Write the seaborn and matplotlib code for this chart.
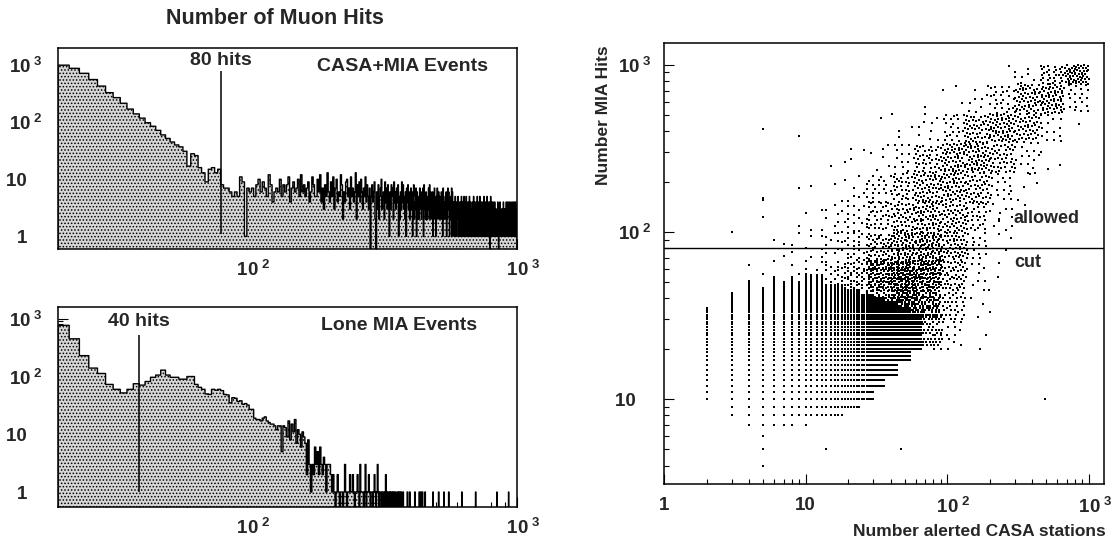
import numpy as np
import pandas as pd
import matplotlib
matplotlib.use("Agg")
import matplotlib.pyplot as plt
import matplotlib.transforms as mtransforms
import seaborn as sns
from matplotlib.ticker import FixedLocator, FuncFormatter, NullFormatter

sns.set_theme(style="ticks")
plt.rcParams["font.family"] = ["Liberation Sans", "DejaVu Sans"]
plt.rcParams["font.weight"] = "bold"
plt.rcParams["mathtext.fontset"] = "custom"
plt.rcParams["mathtext.rm"] = "Liberation Sans:bold"
plt.rcParams["mathtext.it"] = "Liberation Sans:bold"
plt.rcParams["mathtext.bf"] = "Liberation Sans:bold"
plt.rcParams["hatch.linewidth"] = 0.7

# ---------------------------------------------------------------- data
HIT_LOW = 20          # first histogram edge (muon hits)
HIT_HIGH = 1000       # last histogram edge
HIT_BIN = 2           # hits per histogram bin

# CASA+MIA events: bins 20..78
casa_mia_head = [1000, 880, 720, 560, 430, 330, 270, 215, 170, 140,
                 118, 98, 85, 72, 60, 52, 45, 40, 37, 31,
                 17, 28, 26, 16, 13, 9, 15, 16, 13, 15]
# CASA+MIA events: bins 80..998, one hex digit per bin, 100 hits per line
casa_mia_tail = [
    "8776565b91" "76758a6975" "c84676a586" "8b47967a5c" "6857946b85",
    "5a6c47385d" "6495b37a46" "5c82649a57" "3b5746d285" "94a6375b48",
    "5370584692" "0638257a35" "6294738516" "3857294637" "4815263948",
    "3526174836" "2473615824" "3716252473" "5263718342" "6252374826",
    "3426153724" "1527346253" "4263517342" "2536142736" "3142527163",
    "2413152314" "3251423141" "2514312153" "1342513124" "2315241132",
    "1423152141" "3214215312" "2413521314" "1231421532" "3142131524",
    "2131420315" "1241312413" "2314121312" "1312413021" "2141312131",
    "1312141231" "2131214132" "1241312143" "1312141213" "2141312141",
    "2131412131",
]

# Lone MIA events: bins 20..204
lone_mia_head = [770, 450, 230, 140, 113, 73, 60, 52, 60, 75,
                 71, 82, 97, 106, 129, 106, 97, 97, 90, 90,
                 100, 100, 73, 65, 60, 50, 49, 60, 58, 60,
                 57, 49, 48, 35, 43, 42, 37, 38, 33, 34,
                 32, 27, 27, 19, 18, 18, 17, 19, 20, 17,
                 16, 15, 15, 14, 12, 14, 14, 5, 14, 13,
                 9, 17, 8, 15, 11, 18, 7, 12, 10, 6,
                 11, 9, 7, 2, 8, 3, 1, 3, 2, 6,
                 3, 5, 2, 6, 3, 2, 4, 3, 1, 3,
                 3, 3, 2]
# Lone MIA events: bins 206..380, one digit per bin
lone_mia_mid = ("1210121011" "0131011211" "2101121031" "1101301121"
                "0110121013" "1011010110" "2101101011" "0101100101"
                "10110010")
# Lone MIA events above 380 hits: single events
lone_mia_single_hits = [392, 400, 418, 434, 440, 446, 456, 488, 512, 536,
                        558, 624, 702, 842, 930]

# Scatter: filled lattice of (stations, hits) at low multiplicity
lattice_first_x = [2, 3, 4, 5, 6, 7, 8, 9, 10, 11, 14, 19, 25, 31, 37, 45, 56]
lattice_last_x = [2, 3, 4, 5, 6, 7, 8, 9, 10, 13, 18, 24, 30, 36, 44, 55, 65]
lattice_low_y = [10, 8, 7, 7, 7, 7, 7, 8, 7, 8, 8, 9, 10, 12, 14, 17, 20]
lattice_high_y = [35, 43, 51, 46, 54, 50, 54, 50, 56, 55, 48, 45, 42, 40, 38, 35, 32]

# Scatter: events per cell of the sparse cloud
cloud_x_edges = [3, 5, 8, 12, 18, 27, 40, 60, 90, 135, 200, 300, 450, 675, 1000]
cloud_y_edges = [20, 30, 45, 68, 100, 150, 225, 340, 510, 765, 1000]
cloud_y020 = [0, 0, 0, 0, 0, 0, 50, 55, 15, 2, 0, 0, 0, 0]
cloud_y030 = [0, 0, 0, 0, 15, 75, 150, 110, 35, 5, 0, 0, 0, 0]
cloud_y045 = [1, 3, 8, 22, 50, 110, 150, 120, 50, 10, 1, 0, 0, 0]
cloud_y068 = [1, 3, 6, 12, 24, 45, 75, 80, 55, 18, 3, 0, 0, 0]
cloud_y100 = [0, 1, 3, 8, 18, 32, 50, 58, 52, 32, 9, 2, 0, 0]
cloud_y150 = [0, 0, 1, 2, 8, 20, 40, 52, 58, 45, 17, 4, 0, 0]
cloud_y225 = [0, 0, 0, 1, 2, 6, 16, 38, 60, 62, 42, 15, 3, 0]
cloud_y340 = [0, 0, 0, 0, 0, 1, 3, 9, 25, 47, 62, 50, 15, 1]
cloud_y510 = [0, 0, 0, 0, 0, 0, 0, 1, 3, 9, 26, 56, 66, 20]
cloud_y765 = [0, 0, 0, 0, 0, 0, 0, 0, 0, 0, 2, 6, 30, 60]

# Scatter: isolated events
single_x = [5, 5, 5, 5, 5, 5, 9, 11, 14, 47, 490, 21, 26, 232, 232, 46]
single_y = [4, 5, 6, 155, 160, 412, 376, 188, 5, 5, 10, 272, 308, 120, 65, 371]

CUT_HITS = 80
LONE_CUT_HITS = 40


# ---------------------------------------------------------------- helpers
def hist_frame(counts):
    edges = HIT_LOW + HIT_BIN * np.arange(len(counts) + 1)
    centers = edges[:-1] + HIT_BIN / 2
    return pd.DataFrame({"hits": centers, "events": counts})


n_bins = (HIT_HIGH - HIT_LOW) // HIT_BIN
casa_counts = list(casa_mia_head) + [int(c, 16) for c in "".join(casa_mia_tail)]
casa_counts = casa_counts[:n_bins] + [0] * (n_bins - len(casa_counts))
lone_counts = list(lone_mia_head) + [int(c) for c in lone_mia_mid]
lone_counts += [0] * (n_bins - len(lone_counts))
for h in lone_mia_single_hits:
    lone_counts[(h - HIT_LOW) // HIT_BIN] = 1

# scatter table
xs, ys = [], []
for x0, x1, lo, hi in zip(lattice_first_x, lattice_last_x, lattice_low_y, lattice_high_y):
    for x in range(x0, x1 + 1):
        for y in range(lo, hi + 1):
            xs.append(x)
            ys.append(y)

cloud_rows = [cloud_y020, cloud_y030, cloud_y045, cloud_y068, cloud_y100,
              cloud_y150, cloud_y225, cloud_y340, cloud_y510, cloud_y765]
g = 1.32471795724474602596
a1, a2 = 1.0 / g, 1.0 / g ** 2
k0 = 0
for j, row in enumerate(cloud_rows):
    y0, y1 = cloud_y_edges[j], cloud_y_edges[j + 1]
    for i, n in enumerate(row):
        if n == 0:
            continue
        x0, x1 = cloud_x_edges[i], cloud_x_edges[i + 1]
        k = np.arange(k0 + 1, k0 + n + 1)
        k0 += n
        u = (0.5 + a1 * k) % 1.0
        v = (0.5 + a2 * k) % 1.0
        xs.extend(np.round(x0 * (x1 / x0) ** u))
        ys.extend(np.round(y0 * (y1 / y0) ** v))
xs.extend(single_x)
ys.extend(single_y)
scatter_df = pd.DataFrame({"stations": np.asarray(xs, float),
                           "mia_hits": np.asarray(ys, float)})


def pow_label(v, pos=None):
    e = int(round(np.log10(v)))
    if e == 0:
        return "1   "
    if e == 1:
        return "10   "
    return r"$\mathbf{10^{\ %d}}$" % e


def pow_label_x(v, pos=None):
    e = int(round(np.log10(v)))
    if e == 0:
        return "1"
    if e == 1:
        return "10"
    return r"$\mathbf{\ \ \,10^{\ %d}}$" % e


def minor_ticks(lo_exp, hi_exp):
    return [m * 10.0 ** e for e in range(lo_exp, hi_exp) for m in range(2, 10)]


def style_axes(ax, xmajor, ymajor, xminor, yminor, fs=13.5):
    ax.xaxis.set_major_locator(FixedLocator(xmajor))
    ax.yaxis.set_major_locator(FixedLocator(ymajor))
    ax.xaxis.set_minor_locator(FixedLocator(xminor))
    ax.yaxis.set_minor_locator(FixedLocator(yminor))
    ax.xaxis.set_major_formatter(FuncFormatter(pow_label_x))
    ax.yaxis.set_major_formatter(FuncFormatter(pow_label))
    ax.xaxis.set_minor_formatter(NullFormatter())
    ax.yaxis.set_minor_formatter(NullFormatter())
    ax.tick_params(which="both", direction="in", top=False, right=False,
                   width=0.8, color="black")
    ax.tick_params(which="major", length=7, labelsize=fs)
    ax.tick_params(which="minor", length=3.5)
    ax.tick_params(axis="y", which="major", pad=11)
    ax.tick_params(axis="x", which="major", pad=8)
    for s in ax.spines.values():
        s.set_linewidth(1.1)
        s.set_color("black")
    ax.set_xlabel("")
    ax.set_ylabel("")


# ---------------------------------------------------------------- figure
W, H = 1116, 544
fig = plt.figure(figsize=(W / 100, H / 100), dpi=100)


def frame(l, t, r, b):
    return [l / W, 1 - b / H, (r - l) / W, (b - t) / H]


ax_top = fig.add_axes(frame(58, 48, 517, 249))
ax_bot = fig.add_axes(frame(58, 307, 517, 507))
ax_sc = fig.add_axes(frame(664, 43, 1104, 484))

for ax, counts, ylim in ((ax_top, casa_counts, (0.6, 2000)),
                         (ax_bot, lone_counts, (0.55, 1600))):
    sns.histplot(data=hist_frame(counts), x="hits", weights="events",
                 binwidth=HIT_BIN, binrange=(HIT_LOW, HIT_HIGH),
                 element="step", fill=True, ax=ax,
                 facecolor="#d6d6d6", edgecolor="black", linewidth=1.0,
                 alpha=1.0, hatch=".....")
    ax.set_xscale("log")
    ax.set_yscale("log")
    ax.set_xlim(HIT_LOW, HIT_HIGH)
    ax.set_ylim(*ylim)
    style_axes(ax, [100, 1000], [1, 10, 100, 1000],
               minor_ticks(1, 3), minor_ticks(0, 3))

ax_top.vlines(CUT_HITS, 1.1, 800, color="black", lw=1.1)
ax_bot.vlines(LONE_CUT_HITS, 1.0, 520, color="black", lw=1.1)

top_mix = mtransforms.blended_transform_factory(ax_top.transData, ax_top.transAxes)
bot_mix = mtransforms.blended_transform_factory(ax_bot.transData, ax_bot.transAxes)
ax_top.text(CUT_HITS, 0.94, "80 hits", transform=top_mix, ha="center",
            va="center", fontsize=14, fontweight="bold")
ax_top.text(0.937, 0.91, "CASA+MIA Events", transform=ax_top.transAxes,
            ha="right", va="center", fontsize=14, fontweight="bold")
ax_bot.text(LONE_CUT_HITS, 0.93, "40 hits", transform=bot_mix, ha="center",
            va="center", fontsize=14, fontweight="bold")
ax_bot.text(0.913, 0.91, "Lone MIA Events", transform=ax_bot.transAxes,
            ha="right", va="center", fontsize=14, fontweight="bold")

fig.text(275 / W, 1 - 18 / H, "Number of Muon Hits", ha="center", va="center",
         fontsize=15.5, fontweight="bold")

sns.scatterplot(data=scatter_df, x="stations", y="mia_hits", ax=ax_sc,
                s=2.6, marker="s", color="black", linewidth=0)
ax_sc.set_xscale("log")
ax_sc.set_yscale("log")
ax_sc.set_xlim(1, 1280)
ax_sc.set_ylim(3.1, 1350)
ax_sc.axhline(CUT_HITS, color="black", lw=1.0)
style_axes(ax_sc, [1, 10, 100, 1000], [10, 100, 1000],
           minor_ticks(0, 4), minor_ticks(0, 4))
ax_sc.tick_params(axis="y", which="major", pad=9)
ax_sc.tick_params(axis="x", which="major", pad=9)
ax_sc.text(0.945, 0.603, "allowed", transform=ax_sc.transAxes, ha="right",
           va="center", fontsize=13, fontweight="bold")
ax_sc.text(0.795, 0.503, "cut", transform=ax_sc.transAxes, ha="left",
           va="center", fontsize=13, fontweight="bold")
fig.text(1106 / W, 1 - 531 / H, "Number alerted CASA stations", ha="right",
         va="center", fontsize=12.5, fontweight="bold")
fig.text(604 / W, 1 - 45 / H, "Number MIA Hits", ha="center", va="top",
         rotation=90, fontsize=12.5, fontweight="bold")

fig.savefig("out.png", dpi=100, facecolor="white")
